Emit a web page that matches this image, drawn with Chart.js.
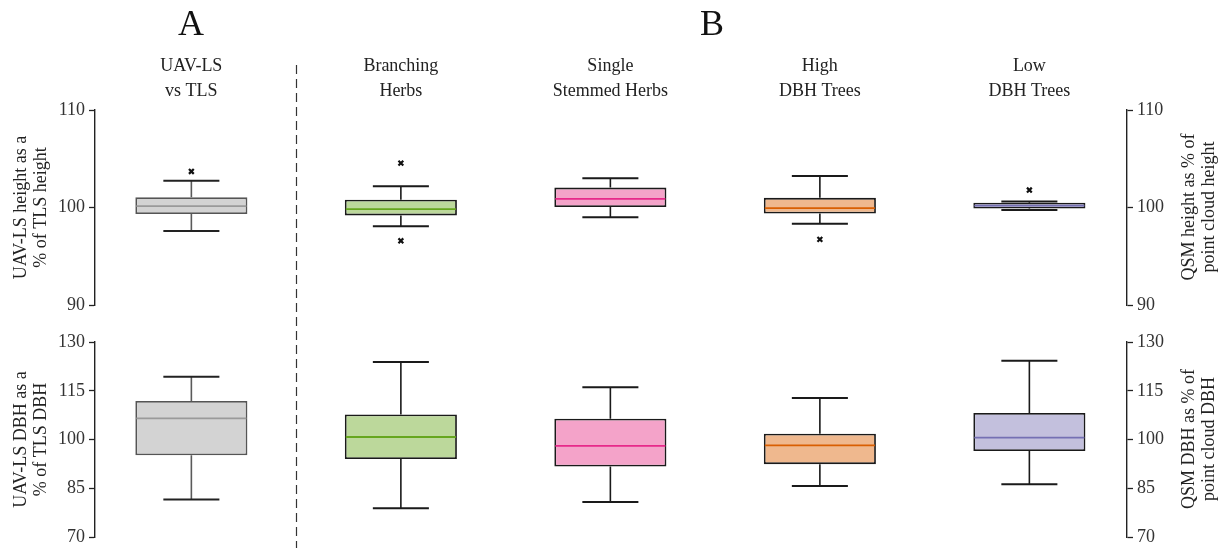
<!DOCTYPE html>
<html>
<head>
<meta charset="utf-8">
<script src="https://cdn.jsdelivr.net/npm/chart.js@4/dist/chart.umd.min.js"></script>
<style>
  html, body { margin: 0; padding: 0; background: #ffffff; }
  body { width: 1221px; height: 548px; position: relative; overflow: hidden; font-family: "Liberation Serif", serif; color: #222; }
  .wrap { position: absolute; left: 0; width: 1221px; }
  #topWrap { top: 0; height: 320px; }
  #botWrap { top: 315px; height: 237px; }
  .panel { position: absolute; font-size: 36px; line-height: 40px; transform: translateX(-50%); top: 3px; color: #111; }
  .rtitle { position: absolute; font-size: 18px; line-height: 20px; text-align: center; white-space: nowrap; transform: translate(-50%, -50%) rotate(-90deg); color: #222; }
</style>
</head>
<body>
<div class="wrap" id="topWrap"><canvas id="topChart" width="1221" height="320"></canvas></div>
<div class="wrap" id="botWrap"><canvas id="botChart" width="1221" height="237"></canvas></div>
<div class="panel" style="left:191px;">A</div>
<div class="panel" style="left:712px;">B</div>
<div class="rtitle" style="left:1198px; top:207px;">QSM height as % of<br>point cloud height</div>
<div class="rtitle" style="left:1198px; top:439px;">QSM DBH as % of<br>point cloud DBH</div>
<script>
// ---------------- DATA ----------------
const catLine1 = ["UAV-LS", "Branching", "Single", "High", "Low"];
const catLine2 = ["vs TLS", "Herbs", "Stemmed Herbs", "DBH Trees", "DBH Trees"];
const catPos = [0, 1, 2, 3, 4];
const dividerAt = 0.5;

// Height (% of reference height)
const hWhiskLo = [97.6, 98.1, 99.0, 98.35, 99.75];
const hQ1      = [99.35, 99.2, 100.05, 99.4, 99.9];
const hMed     = [100.15, 99.85, 100.9, 99.95, 100.2];
const hQ3      = [101.05, 100.8, 102.05, 101.0, 100.5];
const hWhiskHi = [102.75, 102.2, 103.0, 103.25, 100.62];
const hOutX    = [0, 1, 1, 3, 4];
const hOutY    = [103.7, 104.55, 96.6, 96.75, 101.8];
const hTicks   = [90, 100, 110];

// DBH (% of reference DBH)
const dWhiskLo = [81.6, 78.9, 80.8, 85.7, 86.3];
const dQ1      = [95.2, 94.0, 91.7, 92.45, 96.5];
const dMed     = [106.5, 100.8, 98.1, 98.2, 100.6];
const dQ3      = [111.9, 107.7, 106.4, 101.8, 108.2];
const dWhiskHi = [119.3, 123.85, 116.1, 112.75, 124.25];
const dTicks   = [70, 85, 100, 115, 130];

// ---------------- STYLE ----------------
const fills    = ["#d3d3d3", "#bcd89b", "#f4a3c9", "#efb88e", "#c3c0dd"];
const medCols  = ["#9a9a9a", "#66a61e", "#e7298a", "#d95f02", "#7570b3"];
const edgeCols = ["#555555", "#1a1a1a", "#1a1a1a", "#1a1a1a", "#1a1a1a"];
const whCols   = ["#5a5a5a", "#1a1a1a", "#1a1a1a", "#1a1a1a", "#1a1a1a"];
const FONT = "Liberation Serif";
const X_MIN = -0.46, X_MAX = 4.466;

function boxPlugin(lo, q1, med, q3, hi) {
  return {
    id: 'boxWhiskers',
    afterDatasetsDraw(chart) {
      const ctx = chart.ctx;
      const y = chart.scales.y;
      const meta = chart.getDatasetMeta(0);
      meta.data.forEach((bar, i) => {
        const props = bar.getProps(['x', 'width'], true);
        const cx = props.x, w = props.width;
        ctx.save();
        ctx.lineCap = 'butt';
        ctx.strokeStyle = whCols[i];
        ctx.lineWidth = 1.6;
        ctx.beginPath();
        ctx.moveTo(cx, y.getPixelForValue(q3[i]));
        ctx.lineTo(cx, y.getPixelForValue(hi[i]));
        ctx.moveTo(cx, y.getPixelForValue(q1[i]));
        ctx.lineTo(cx, y.getPixelForValue(lo[i]));
        ctx.stroke();
        ctx.strokeStyle = i === 0 ? "#222222" : "#1a1a1a";
        ctx.lineWidth = 2;
        ctx.beginPath();
        [lo[i], hi[i]].forEach(v => {
          const py = y.getPixelForValue(v);
          ctx.moveTo(cx - w / 4, py);
          ctx.lineTo(cx + w / 4, py);
        });
        ctx.stroke();
        ctx.strokeStyle = medCols[i];
        ctx.lineWidth = 1.8;
        ctx.beginPath();
        const pm = y.getPixelForValue(med[i]);
        ctx.moveTo(cx - w / 2 + 1, pm);
        ctx.lineTo(cx + w / 2 - 1, pm);
        ctx.stroke();
        ctx.restore();
      });
    }
  };
}

function dividerPlugin(yStart, yEnd, dashOffset) {
  return {
    id: 'divider',
    afterDraw(chart) {
      const ctx = chart.ctx;
      const px = Math.round(chart.scales.x.getPixelForValue(dividerAt)) + 0.5;
      ctx.save();
      ctx.strokeStyle = "#333333";
      ctx.lineWidth = 1.2;
      ctx.setLineDash([9, 5]);
      ctx.lineDashOffset = dashOffset;
      ctx.beginPath();
      ctx.moveTo(px, yStart);
      ctx.lineTo(px, yEnd);
      ctx.stroke();
      ctx.restore();
    }
  };
}

function yAxis(position, ticks, width, titleLines) {
  return {
    type: 'linear',
    position: position,
    min: ticks[0],
    max: ticks[ticks.length - 1],
    afterBuildTicks: s => { s.ticks = ticks.map(v => ({ value: v })); },
    afterFit: s => { s.width = width; },
    grid: { display: true, drawOnChartArea: false, drawTicks: true, tickLength: 6, tickWidth: 1.3, tickColor: "#222222" },
    border: { display: true, color: "#222222", width: 1.4 },
    ticks: { color: "#333333", padding: 4, font: { family: FONT, size: 18 } },
    title: titleLines ? { display: true, text: titleLines, color: "#222222", padding: { top: 11, bottom: 0 }, font: { family: FONT, size: 18, lineHeight: 1.12 } } : { display: false }
  };
}

function makeChart(canvasId, opts) {
  const datasets = [{
    type: 'bar',
    data: catPos.map((x, i) => ({ x: x, y: [opts.q1[i], opts.q3[i]] })),
    backgroundColor: fills,
    borderColor: edgeCols,
    borderWidth: 1.8,
    borderSkipped: false,
    barPercentage: 0.535,
    categoryPercentage: 1.0,
    yAxisID: 'y',
    order: 2
  }];
  if (opts.outX) {
    datasets.push({
      type: 'scatter',
      data: opts.outX.map((x, i) => ({ x: x, y: opts.outY[i] })),
      pointStyle: 'crossRot',
      pointRadius: 3.4,
      borderWidth: 2.2,
      borderColor: "#111111",
      backgroundColor: "#111111",
      yAxisID: 'y',
      order: 1
    });
  }
  const xAxis = {
    type: 'linear', position: 'top', min: X_MIN, max: X_MAX, offset: false,
    display: opts.showCats,
    afterBuildTicks: s => { s.ticks = catPos.map(v => ({ value: v })); },
    afterFit: s => { s.height = opts.xHeight; },
    grid: { display: false, drawTicks: false, offset: false },
    border: { display: false },
    ticks: {
      padding: 6, color: "#222222",
      font: { family: FONT, size: 18, lineHeight: 1.39 },
      maxRotation: 0, autoSkip: false,
      callback: v => [catLine1[v], catLine2[v]]
    }
  };

  return new Chart(document.getElementById(canvasId), {
    type: 'bar',
    data: { datasets: datasets },
    options: {
      responsive: false,
      animation: false,
      events: [],
      layout: { padding: opts.padding },
      plugins: { legend: { display: false }, tooltip: { enabled: false }, title: { display: false } },
      scales: {
        x: xAxis,
        y: yAxis('left', opts.ticks, 95, opts.leftTitle),
        y2: yAxis('right', opts.ticks, 94, null)
      }
    },
    plugins: [boxPlugin(opts.lo, opts.q1, opts.med, opts.q3, opts.hi), dividerPlugin(opts.divStart, opts.divEnd, opts.dashOffset)]
  });
}

makeChart('topChart', {
  lo: hWhiskLo, q1: hQ1, med: hMed, q3: hQ3, hi: hWhiskHi,
  outX: hOutX, outY: hOutY, ticks: hTicks,
  leftTitle: ["UAV-LS height as a", "% of TLS height"],
  showCats: true, xHeight: 110,
  padding: { top: 0, bottom: 10, left: 0, right: 0 },
  divStart: 65, divEnd: 315, dashOffset: 0
});

makeChart('botChart', {
  lo: dWhiskLo, q1: dQ1, med: dMed, q3: dQ3, hi: dWhiskHi,
  ticks: dTicks,
  leftTitle: ["UAV-LS DBH as a", "% of TLS DBH"],
  showCats: false, xHeight: 0,
  padding: { top: 27, bottom: 11, left: 0, right: 0 },
  divStart: 0, divEnd: 237, dashOffset: (315 - 65) % 14
});
</script>
</body>
</html>
